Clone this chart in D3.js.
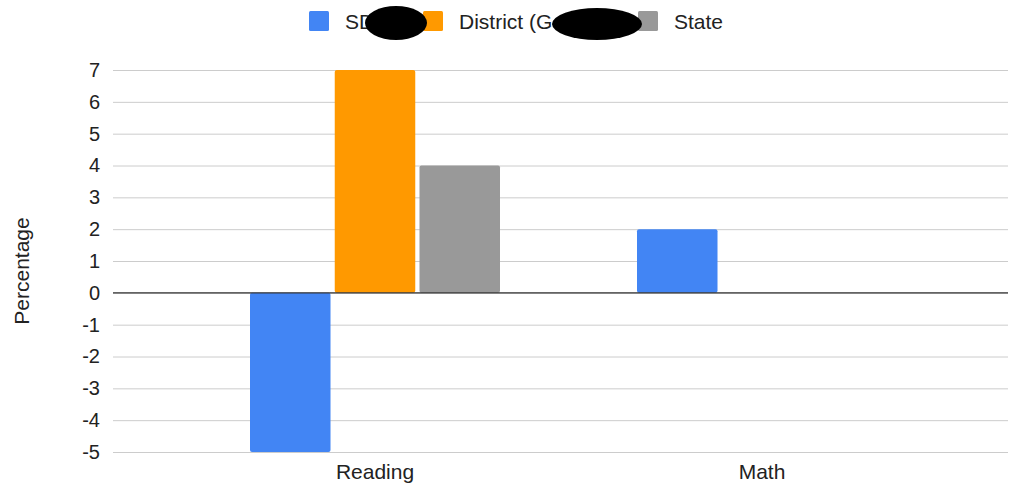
<!DOCTYPE html>
<html><head><meta charset="utf-8">
<script src="https://cdn.jsdelivr.net/npm/d3@7"></script>
<style>body{margin:0;background:#fff}svg{display:block;font-family:"Liberation Sans",Arial,sans-serif}</style>
</head><body><svg id="c" width="1011" height="492"></svg>
<script>
const categories = ["Reading", "Math"];
const seriesNames = ["SD", "District (G", "State"];
const seriesColors = ["#4285f4", "#ff9900", "#999999"];
const sdValues = [-5, 2];
const districtValues = [7, 0];
const stateValues = [4, 0];
const yTicks = [-5, -4, -3, -2, -1, 0, 1, 2, 3, 4, 5, 6, 7];

const FS = 21;
const FF = "Liberation Sans, Arial, sans-serif";
const series = [sdValues, districtValues, stateValues];
const svg = d3.select("#c");
const plotL = 113, plotR = 1008;
const y = d3.scaleLinear().domain([-5, 7]).range([452, 70]);
const x0 = d3.scaleBand().domain(categories).range([181.5, 955.5]);
const gw = 250;
const x1 = d3.scaleBand().domain(d3.range(3)).range([x0.bandwidth()/2 - gw/2, x0.bandwidth()/2 + gw/2]).paddingInner(0.05);

// gridlines
const yAxis = d3.axisLeft(y).tickValues(yTicks).tickSize(-(plotR - plotL)).tickPadding(13).tickFormat(d => String(d));
const ga = svg.append("g").attr("transform", `translate(${plotL},0)`).call(yAxis);
ga.select(".domain").remove();
ga.selectAll(".tick line").attr("stroke", "#cccccc").attr("stroke-width", 1);
ga.selectAll(".tick text").attr("font-size", 20).attr("fill", "#222").attr("font-family", FF);

// bars
categories.forEach((c, ci) => {
  series.forEach((vals, si) => {
    const v = vals[ci];
    if (v === 0) return;
    svg.append("rect")
      .attr("x", x0(c) + x1(si))
      .attr("width", x1.bandwidth())
      .attr("y", Math.min(y(v), y(0)))
      .attr("height", Math.abs(y(v) - y(0)))
      .attr("rx", 2)
      .attr("fill", seriesColors[si]);
  });
});

// zero baseline
svg.append("line").attr("x1", plotL).attr("x2", plotR).attr("y1", y(0)).attr("y2", y(0)).attr("stroke", "#333").attr("stroke-width", 1.3);

// x axis labels
const xa = svg.append("g").attr("transform", `translate(0,${y(-5)})`).call(d3.axisBottom(x0).tickSize(0).tickPadding(12));
xa.select(".domain").remove();
xa.selectAll(".tick text").attr("font-size", FS).attr("fill", "#222").attr("font-family", FF);

// y title
svg.append("text").attr("transform", `translate(29,271) rotate(-90)`).attr("text-anchor", "middle")
  .attr("font-size", FS).attr("fill", "#222").text("Percentage");

// legend
const legendX = [309, 423, 638];
const lg = svg.append("g");
seriesNames.forEach((n, i) => {
  lg.append("rect").attr("x", legendX[i]).attr("y", 11).attr("width", 20).attr("height", 20).attr("rx", 1.5).attr("fill", seriesColors[i]);
  lg.append("text").attr("x", legendX[i] + 36).attr("y", 29).attr("font-size", FS).attr("fill", "#222").text(n);
});
// redaction marks
lg.append("ellipse").attr("cx", 396).attr("cy", 23).attr("rx", 31).attr("ry", 17).attr("fill", "#000");
lg.append("ellipse").attr("cx", 597).attr("cy", 24).attr("rx", 45).attr("ry", 16).attr("fill", "#000");
</script></body></html>
